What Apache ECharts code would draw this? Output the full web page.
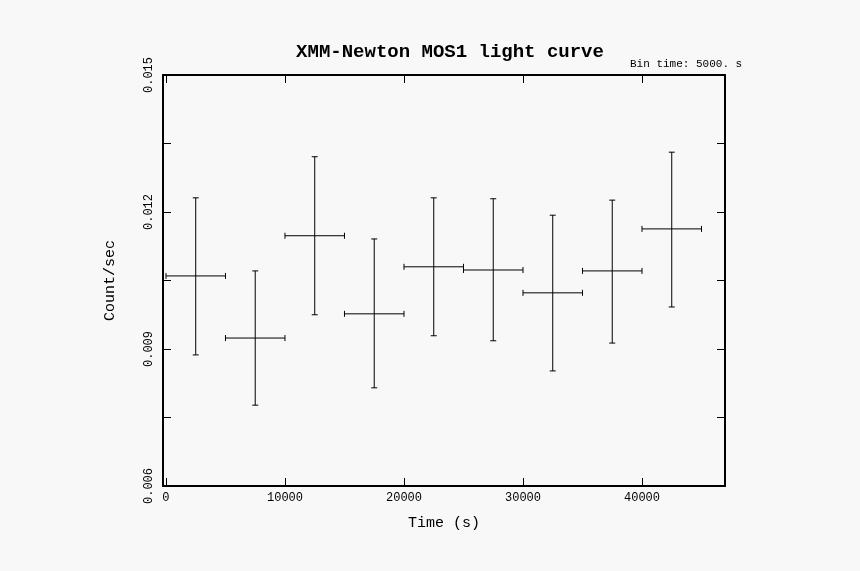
<!DOCTYPE html>
<html><head><meta charset="utf-8">
<script src="https://cdn.jsdelivr.net/npm/echarts@6/dist/echarts.min.js"></script>
<style>html,body{margin:0;background:#f8f8f8}#c{width:860px;height:571px}</style>
</head><body><div id="c"></div>
<script>
var timeCenters=[2500,7500,12500,17500,22500,27500,32500,37500,42500];
var halfBin=[2500,2500,2500,2500,2500,2500,2500,2500,2500];
var rates=[0.01060,0.00924,0.01148,0.00977,0.01080,0.01073,0.01023,0.01071,0.01163];
var errLow=[0.00887,0.00777,0.00975,0.00815,0.00929,0.00918,0.00852,0.00913,0.00992];
var errHigh=[0.01231,0.01071,0.01321,0.01141,0.01231,0.01229,0.01193,0.01226,0.01331];
var xTicks=[0,10000,20000,30000,40000];
var yTickLabels=['0.006','0.009','0.012','0.015'];
var data=timeCenters.map(function(t,i){return [t,rates[i],halfBin[i],errLow[i],errHigh[i]];});
var F='Liberation Mono';
var line={onZero:false,lineStyle:{color:'#000',width:2}};
var chart=echarts.init(document.getElementById('c'));
chart.setOption({
backgroundColor:'#f8f8f8',
title:{text:'XMM-Newton MOS1 light curve',left:445,top:38,textAlign:'center',textStyle:{fontFamily:F,fontSize:19,fontWeight:'bold',color:'#000'}},
graphic:[{type:'text',left:630,top:59,style:{text:'Bin time: 5000. s',font:'11px "Liberation Mono"',fill:'#000'}}],
grid:{left:163,right:135,top:75,bottom:85},
xAxis:[{type:'value',min:-250,max:46975,name:'Time (s)',nameLocation:'middle',nameGap:30,nameTextStyle:{fontFamily:F,fontSize:15,color:'#000'},
 axisLine:line,splitLine:{show:false},
 axisLabel:{fontFamily:F,fontSize:12,color:'#000',margin:6,customValues:xTicks,formatter:function(v){return String(v);}},axisTick:{inside:true,length:8,customValues:xTicks,lineStyle:{color:'#000'}}},
 {type:'value',position:'top',min:-250,max:46975,axisLine:line,splitLine:{show:false},axisLabel:{show:false},axisTick:{inside:true,length:8,customValues:xTicks,lineStyle:{color:'#000'}}}],
yAxis:[{type:'value',min:0.006,max:0.015,interval:0.0015,name:'Count/sec',nameLocation:'middle',nameGap:45,nameTextStyle:{fontFamily:F,fontSize:15,color:'#000'},
 axisLine:line,splitLine:{show:false},axisTick:{inside:true,length:8,lineStyle:{color:'#000'}},
 axisLabel:{fontFamily:F,fontSize:12,color:'#000',rotate:90,margin:8,formatter:function(v){var s=v.toFixed(3);return yTickLabels.indexOf(s)>=0&&Math.abs(v*1000-Math.round(v*1000/3)*3)<1e-6?s:'';}}},
 {type:'value',position:'right',min:0.006,max:0.015,interval:0.0015,axisLine:line,splitLine:{show:false},axisTick:{inside:true,length:8,lineStyle:{color:'#000'}},axisLabel:{show:false}}],
series:[{type:'custom',data:data,encode:{x:0,y:1},renderItem:function(p,api){
 var x=api.value(0),y=api.value(1),h=api.value(2),lo=api.value(3),hi=api.value(4);
 var a=api.coord([x-h,y]),b=api.coord([x+h,y]),c=api.coord([x,hi]),d=api.coord([x,lo]);
 var st={stroke:'#000',lineWidth:1};
 return {type:'group',children:[
  {type:'line',shape:{x1:a[0],y1:a[1],x2:b[0],y2:b[1]},style:st},
  {type:'line',shape:{x1:a[0],y1:a[1]-3,x2:a[0],y2:a[1]+3},style:st},
  {type:'line',shape:{x1:b[0],y1:b[1]-3,x2:b[0],y2:b[1]+3},style:st},
  {type:'line',shape:{x1:c[0],y1:c[1],x2:d[0],y2:d[1]},style:st},
  {type:'line',shape:{x1:c[0]-3,y1:c[1],x2:c[0]+3,y2:c[1]},style:st},
  {type:'line',shape:{x1:d[0]-3,y1:d[1],x2:d[0]+3,y2:d[1]},style:st}]};
}}]
});
</script></body></html>
